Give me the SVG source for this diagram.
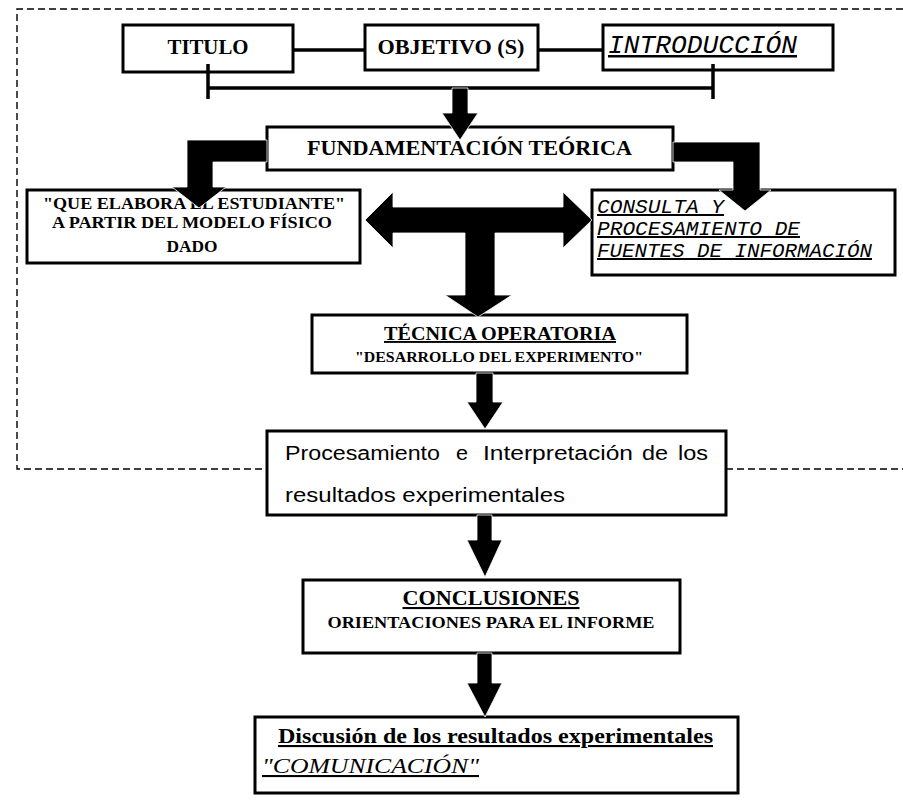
<svg xmlns="http://www.w3.org/2000/svg" width="903" height="803" viewBox="0 0 903 803">
  <style>
    .box { fill: #fff; stroke: #000; stroke-width: 3; }
    .frame { fill: none; stroke: #000; stroke-width: 1.4; stroke-dasharray: 7 4; }
    .link { fill: none; stroke: #000; stroke-width: 3.5; }
    .arrow { fill: #000; stroke: #fff; stroke-width: 0.8; stroke-linejoin: miter; }
    .sb { font-family: "Liberation Serif", "DejaVu Serif", serif; font-weight: bold; fill: #000; }
    .mi { font-family: "Liberation Mono", "DejaVu Sans Mono", monospace; font-style: italic; fill: #000; }
    .si { font-family: "Liberation Serif", "DejaVu Serif", serif; font-style: italic; fill: #000; }
    .sans { font-family: "Liberation Sans", Arial, sans-serif; fill: #000; }
    .u { text-decoration: underline; }
  </style>

  <rect width="903" height="803" fill="#fff"/>

  <!-- dashed enclosure of the preparation stage -->
  <g id="frame">
    <path class="frame" d="M903,9 H17 V469 H267"/>
    <path class="frame" d="M726,469 H903"/>
  </g>

  <g id="titulo">
    <rect class="box" x="123" y="25" width="170" height="47"/>
    <text class="sb" x="208" y="54" font-size="22" text-anchor="middle" textLength="81" lengthAdjust="spacingAndGlyphs">TITULO</text>
  </g>

  <g id="objetivo">
    <rect class="box" x="365" y="25" width="173" height="45"/>
    <text class="sb" x="451" y="54" font-size="22" text-anchor="middle" textLength="147" lengthAdjust="spacingAndGlyphs">OBJETIVO (S)</text>
  </g>

  <g id="introduccion">
    <rect class="box" x="603" y="25" width="230" height="45"/>
    <text class="mi u" x="608" y="53" font-size="25" textLength="189" lengthAdjust="spacingAndGlyphs">INTRODUCCIÓN</text>
  </g>

  <g id="fundamentacion">
    <rect class="box" x="267" y="127" width="406" height="43"/>
    <text class="sb" x="307" y="155" font-size="22" textLength="325" lengthAdjust="spacingAndGlyphs">FUNDAMENTACIÓN TEÓRICA</text>
  </g>

  <g id="estudiante">
    <rect class="box" x="27" y="190" width="333" height="73"/>
    <text class="sb" x="194" y="209" font-size="16" text-anchor="middle" textLength="302" lengthAdjust="spacingAndGlyphs">"QUE ELABORA EL ESTUDIANTE"</text>
    <text class="sb" x="192" y="228" font-size="16" text-anchor="middle" textLength="280" lengthAdjust="spacingAndGlyphs">A PARTIR DEL MODELO FÍSICO</text>
    <text class="sb" x="192" y="252" font-size="16" text-anchor="middle" textLength="51" lengthAdjust="spacingAndGlyphs">DADO</text>
  </g>

  <g id="consulta">
    <rect class="box" x="592" y="190" width="303" height="85"/>
    <text class="mi u" x="597" y="213" font-size="20" textLength="127" lengthAdjust="spacingAndGlyphs">CONSULTA  Y</text>
    <text class="mi u" x="597" y="235" font-size="20" textLength="203" lengthAdjust="spacingAndGlyphs">PROCESAMIENTO DE</text>
    <text class="mi u" x="597" y="257" font-size="20" textLength="275" lengthAdjust="spacingAndGlyphs">FUENTES DE INFORMACIÓN</text>
  </g>

  <g id="tecnica">
    <rect class="box" x="312" y="315" width="375" height="58"/>
    <text class="sb u" x="500" y="340" font-size="19" text-anchor="middle" textLength="232" lengthAdjust="spacingAndGlyphs">TÉCNICA OPERATORIA</text>
    <text class="sb" x="499" y="362" font-size="14" text-anchor="middle" textLength="288" lengthAdjust="spacingAndGlyphs">"DESARROLLO DEL EXPERIMENTO"</text>
  </g>

  <g id="procesamiento">
    <rect class="box" x="267" y="431" width="459" height="84"/>
    <text class="sans" y="460" font-size="20"><tspan x="285" textLength="155" lengthAdjust="spacingAndGlyphs">Procesamiento</tspan><tspan x="456" textLength="12" lengthAdjust="spacingAndGlyphs">e</tspan><tspan x="483" textLength="150" lengthAdjust="spacingAndGlyphs">Interpretación</tspan><tspan x="642" textLength="26" lengthAdjust="spacingAndGlyphs">de</tspan><tspan x="678" textLength="30" lengthAdjust="spacingAndGlyphs">los</tspan></text>
    <text class="sans" x="285" y="502" font-size="20" textLength="280" lengthAdjust="spacingAndGlyphs">resultados experimentales</text>
  </g>

  <g id="conclusiones">
    <rect class="box" x="303" y="580" width="377" height="73"/>
    <text class="sb u" x="491" y="605" font-size="21" text-anchor="middle" textLength="177" lengthAdjust="spacingAndGlyphs">CONCLUSIONES</text>
    <text class="sb" x="491" y="628" font-size="16" text-anchor="middle" textLength="327" lengthAdjust="spacingAndGlyphs">ORIENTACIONES PARA EL INFORME</text>
  </g>

  <g id="discusion">
    <rect class="box" x="255" y="717" width="483" height="76"/>
    <text class="sb u" x="278" y="743" font-size="21" textLength="435" lengthAdjust="spacingAndGlyphs">Discusión de los resultados experimentales</text>
    <text class="si u" x="262" y="773" font-size="21" textLength="217" lengthAdjust="spacingAndGlyphs">"COMUNICACIÓN"</text>
  </g>

  <!-- connectors: thin links, bracket and block arrows -->
  <g id="connectors">
    <path class="link" d="M293,50 H365"/>
    <path class="link" d="M538,50 H603"/>
    <path class="link" d="M208,64 V99 M208,88 H713 M713,64 V99"/>
    <path class="arrow" d="M452,88 H468 V113 H478 L460,140 L442,113 H452 Z"/>
    <path class="arrow" d="M267,140 V162 H213 V187 H226 L199,208 L172,187 H187 V140 Z"/>
    <path class="arrow" d="M673,142 H760 V190 H771 L745,211 L719,190 H733 V162 H673 Z"/>
    <path class="arrow" d="M365,220 L393,192 V207 H563 V192 L592,220 L563,248 V233 H495 V295 H512 L478,317 L445,295 H465 V233 H393 V248 Z"/>
    <path class="arrow" d="M476,373 H493 V402 H503 L485,429 L467,402 H476 Z"/>
    <path class="arrow" d="M477,515 H492 V540 H502 L485,577 L467,540 H477 Z"/>
    <path class="arrow" d="M477,653 H492 V683 H502 L485,717 L467,683 H477 Z"/>
  </g>
</svg>
